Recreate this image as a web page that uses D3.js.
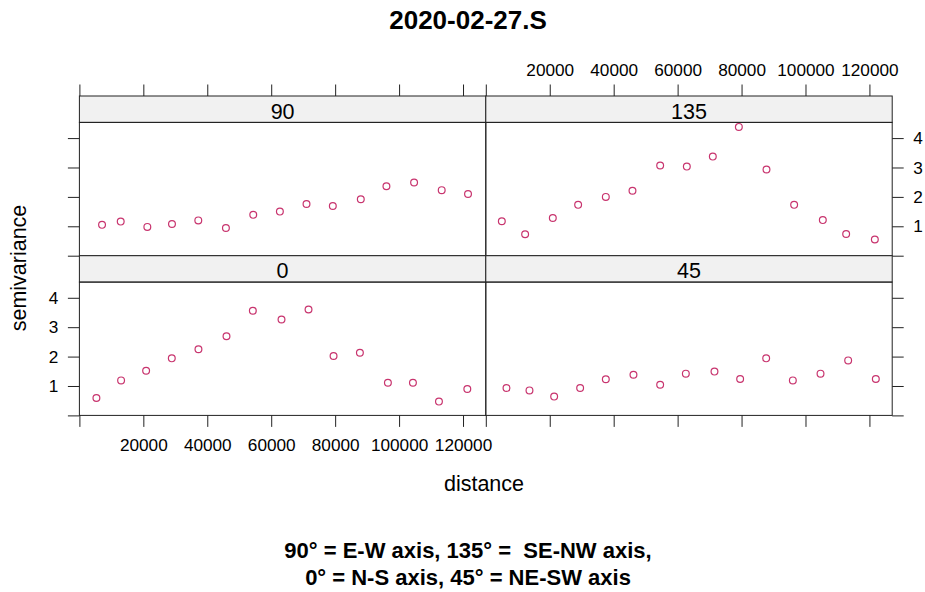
<!DOCTYPE html>
<html>
<head>
<meta charset="utf-8">
<script src="https://cdn.jsdelivr.net/npm/d3@7"></script>
<style>
  body { margin: 0; background: #fff; }
  svg { font-family: "Liberation Sans", Arial, sans-serif; }
</style>
</head>
<body>
<svg id="chart" width="925" height="592"></svg>
<script>
// semivariogram per direction (distance in m, semivariance)
const dist90  = [7080, 12920, 21250, 28960, 37190, 45830, 54380, 62710, 71040, 79270, 88020, 96040, 104690, 113330, 121560];
const gamma90 = [1.05, 1.16, 0.98, 1.08, 1.20, 0.94, 1.39, 1.50, 1.76, 1.69, 1.92, 2.36, 2.49, 2.23, 2.10];

const dist135  = [5010, 12300, 20960, 28880, 37540, 45880, 54540, 62880, 71010, 79150, 87800, 96450, 105420, 112720, 121690];
const gamma135 = [1.17, 0.73, 1.28, 1.73, 2.00, 2.21, 3.07, 3.03, 3.37, 4.38, 2.93, 1.73, 1.21, 0.74, 0.55];

const dist0  = [5320, 13040, 20870, 28900, 37240, 46010, 54250, 63220, 71670, 79500, 87740, 96500, 104330, 112470, 121340];
const gamma0 = [0.59, 1.19, 1.52, 1.94, 2.25, 2.69, 3.56, 3.26, 3.60, 2.02, 2.13, 1.11, 1.11, 0.47, 0.90];

const dist45  = [6470, 13660, 21380, 29510, 37540, 46190, 54540, 62570, 71530, 79560, 87700, 96040, 104700, 113350, 122000];
const gamma45 = [0.93, 0.85, 0.64, 0.93, 1.23, 1.38, 1.04, 1.42, 1.49, 1.24, 1.94, 1.19, 1.42, 1.87, 1.24];

const xTicks = [0, 20000, 40000, 60000, 80000, 100000, 120000];
const yTicks = [0, 1, 2, 3, 4];

const chartTitle = "2020-02-27.S";
const xLabel = "distance";
const yLabel = "semivariance";
const captionLines = ["90\u00b0 = E-W axis, 135\u00b0 =  SE-NW axis,", "0\u00b0 = N-S axis, 45\u00b0 = NE-SW axis"];

// panel layout (lattice style, 2x2)
const panels = [
  { name: "90",  dist: dist90,  gamma: gamma90,  col: 0, row: 0 },
  { name: "135", dist: dist135, gamma: gamma135, col: 1, row: 0 },
  { name: "0",   dist: dist0,   gamma: gamma0,   col: 0, row: 1 },
  { name: "45",  dist: dist45,  gamma: gamma45,  col: 1, row: 1 }
];

const svg = d3.select("#chart");

const gridLeft = 79.4, gridTop = 96;
const panelW = 406.4, stripH = 26.4, plotH = 133.3;
const panelH = stripH + plotH;
const tickLen = 11.5;
const lineCol = "#222";
const pointCol = "#c8346e";

const allDist = d3.merge(panels.map(p => p.dist));
const allGamma = d3.merge(panels.map(p => p.gamma));

const x = d3.scaleLinear().domain([0, d3.max(allDist) * 1.042]).range([0, panelW]);
const y = d3.scaleLinear().domain([0, d3.max(allGamma) * 1.035]).range([plotH, 0]);

const fmt = d => d === 0 ? "" : String(d);

function styleAxis(ax) {
  ax.select(".domain").remove();
  ax.selectAll(".tick line").attr("stroke", lineCol).attr("stroke-width", 1);
  ax.selectAll(".tick text")
    .attr("fill", "#000")
    .style("font-family", "'Liberation Sans', Arial, sans-serif")
    .style("font-size", "17.2px");
}

panels.forEach(p => {
  const px = gridLeft + p.col * panelW;
  const py = gridTop + p.row * panelH;
  const g = svg.append("g").attr("transform", `translate(${px},${py})`);

  // strip
  g.append("rect")
    .attr("x", 0).attr("y", 0)
    .attr("width", panelW).attr("height", stripH)
    .attr("fill", "#f1f1f1")
    .attr("stroke", lineCol).attr("stroke-width", 1);
  g.append("text")
    .attr("x", panelW / 2).attr("y", stripH - 3.6)
    .attr("text-anchor", "middle")
    .style("font-size", "21.5px")
    .attr("fill", "#000")
    .text(p.name);

  const plot = g.append("g").attr("transform", `translate(0,${stripH})`);

  // points
  plot.selectAll("circle")
    .data(p.dist.map((d, i) => [d, p.gamma[i]]))
    .enter().append("circle")
    .attr("cx", d => x(d[0]))
    .attr("cy", d => y(d[1]))
    .attr("r", 3.4)
    .attr("fill", "none")
    .attr("stroke", pointCol)
    .attr("stroke-width", 1.2);

  plot.append("rect")
    .attr("x", 0).attr("y", 0)
    .attr("width", panelW).attr("height", plotH)
    .attr("fill", "none")
    .attr("stroke", lineCol).attr("stroke-width", 1);

  // axes: labels alternate like lattice
  const showTop = p.row === 0 && p.col === 1;
  const showBottom = p.row === 1 && p.col === 0;
  const showLeft = p.row === 1 && p.col === 0;
  const showRight = p.row === 0 && p.col === 1;

  let ax;
  if (p.row === 0) {
    ax = g.append("g")
      .call(d3.axisTop(x).tickValues(xTicks).tickSize(tickLen).tickPadding(9)
        .tickFormat(showTop ? fmt : () => ""));
  } else {
    ax = plot.append("g")
      .attr("transform", `translate(0,${plotH})`)
      .call(d3.axisBottom(x).tickValues(xTicks).tickSize(tickLen).tickPadding(12)
        .tickFormat(showBottom ? fmt : () => ""));
  }
  styleAxis(ax);

  if (p.col === 0) {
    ax = plot.append("g")
      .call(d3.axisLeft(y).tickValues(yTicks).tickSize(tickLen).tickPadding(9.5)
        .tickFormat(showLeft ? fmt : () => ""));
  } else {
    ax = plot.append("g")
      .attr("transform", `translate(${panelW},0)`)
      .call(d3.axisRight(y).tickValues(yTicks).tickSize(tickLen).tickPadding(9.5)
        .tickFormat(showRight ? fmt : () => ""));
  }
  styleAxis(ax);
});

// title
svg.append("text")
  .attr("x", 468).attr("y", 29)
  .attr("text-anchor", "middle")
  .style("font-size", "26px")
  .style("font-weight", "bold")
  .text(chartTitle);

// axis labels
svg.append("text")
  .attr("x", 484).attr("y", 491)
  .attr("text-anchor", "middle")
  .style("font-size", "21.5px")
  .text(xLabel);

svg.append("text")
  .attr("transform", "translate(26,268) rotate(-90)")
  .attr("text-anchor", "middle")
  .style("font-size", "21.5px")
  .text(yLabel);

// caption
svg.selectAll(".caption")
  .data(captionLines)
  .enter().append("text")
  .attr("class", "caption")
  .attr("x", 468)
  .attr("y", (d, i) => 558 + i * 27)
  .attr("text-anchor", "middle")
  .style("font-size", "22px")
  .style("font-weight", "bold")
  .style("white-space", "pre")
  .text(d => d);
</script>
</body>
</html>
